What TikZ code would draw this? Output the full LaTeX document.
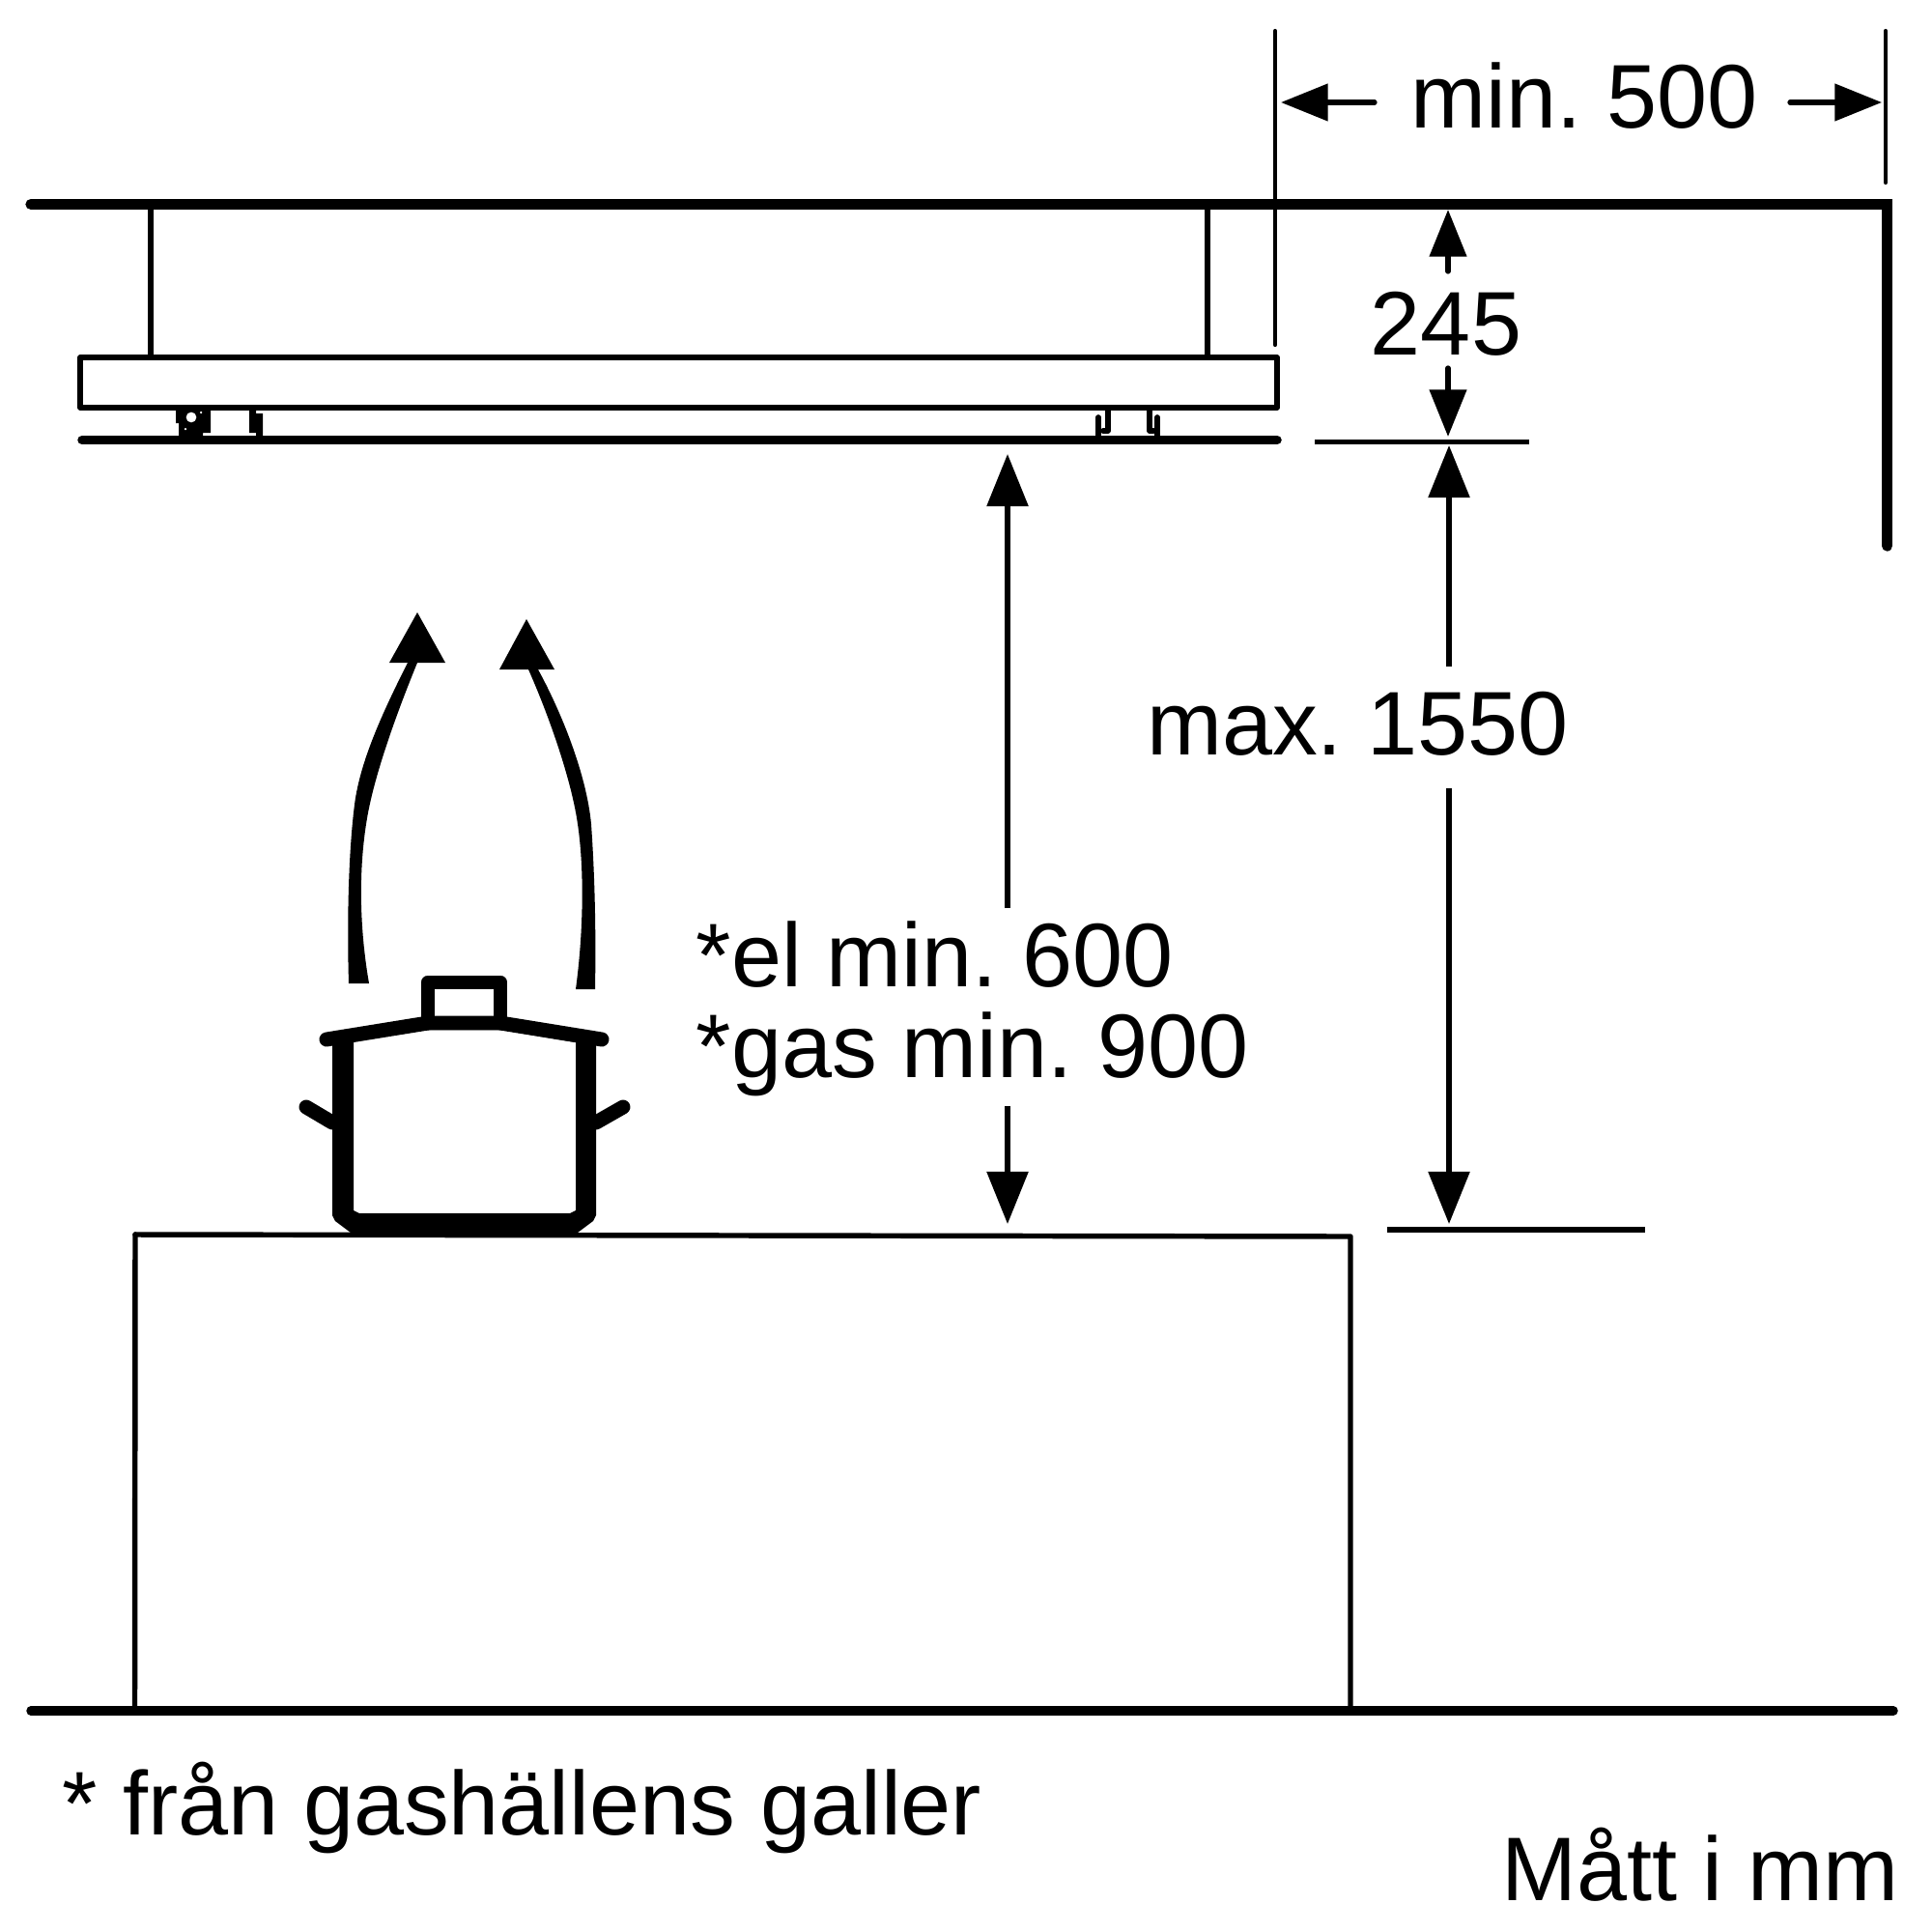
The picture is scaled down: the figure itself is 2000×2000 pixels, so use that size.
\documentclass[tikz,border=0pt]{standalone}
\usepackage{fontspec}
\setmainfont{Liberation Sans}
\usetikzlibrary{arrows.meta}
\tikzset{
  wall/.style={line width=3.2pt,line cap=round,line join=miter},
  floorline/.style={line width=2.7pt,line cap=round},
  edge/.style={line width=1.55pt,line cap=round,line join=round},
  clip line/.style={line width=1.6pt,line cap=round,line join=round},
  potline/.style={line width=4.25pt,line cap=round,line join=round},
  dimline/.style={line width=1.2pt,line cap=round},
  tick/.style={line width=1.6pt},
  dimarrow/.style={line width=1.5pt,-{Triangle[length=15.4pt,width=12pt]}},
  shortarrow/.style={line width=1.5pt,line cap=round,-{Triangle[length=13.8pt,width=10.7pt]}},
  label/.style={font=\fontsize{26.6}{32}\selectfont,inner sep=0pt},
}
\begin{document}
\frenchspacing
\begin{tikzpicture}[x=0.01cm,y=-0.01cm]
    \useasboundingbox (0,0) rectangle (2000,2000);
    % ceiling, back wall and floor
    \draw[wall] (32,211.5) -- (1953.5,211.5) -- (1953.5,565);
    \draw[floorline] (32,1771) -- (1960,1771);
    % hood
    \draw[edge] (156,212) -- (156,370);
    \draw[edge] (1250,212) -- (1250,370);
    \draw[edge] (83,370) rectangle (1322,422);
    \draw[floorline] (85,455.5) -- (1322,455.5);
    % clips
    \draw[clip line] (1147,423) -- (1147,446) -- (1142,446);
    \draw[clip line] (1137,432) -- (1137,453);
    \draw[clip line] (1190,423) -- (1190,446) -- (1194,446);
    \draw[clip line] (1198,432) -- (1198,453);
    \fill (258,421) -- (265,421) -- (265,428) -- (272,428) -- (272,452) -- (265,452) -- (265,448) -- (258,448) -- cycle;
    \fill[even odd rule] (182,424) -- (210,424) -- (210,420) -- (218,420) -- (218,448) -- (210,448)
      -- (210,452) -- (185,452) -- (185,438) -- (182,438) -- cycle
      (198,432) circle (5.5) (192,444) circle (1.5) (208,427) circle (1.5);
    % hob
    \draw[edge] (140,1278) -- (1398,1280) -- (1398,1771);
    \draw[edge] (140,1278) -- (139.5,1771);
    % pot
    \fill[even odd rule] (344,1075) -- (344,1258) -- (347,1264) -- (363,1276) -- (598,1276) -- (614,1264)
      -- (617,1258) -- (617,1075) -- (518,1059) -- (443,1059) -- cycle
      (366,1078) -- (366,1253) -- (372,1256) -- (590,1256) -- (596,1253) -- (596,1079)
      -- (518,1066) -- (443,1066) -- cycle;
    \draw[potline] (338,1076) -- (443,1059) -- (518,1059) -- (623,1076);
    \draw[potline] (443,1059) -- (443,1017) -- (518,1017) -- (518,1059);
    \draw[potline] (317,1146) -- (344,1162);
    \draw[potline] (645,1146) -- (617,1162);
    % rising air
    \fill (361,1018) .. controls (359,950) and (361,880) .. (367,833)
      .. controls (373,785) and (400,730) .. (422,686) -- (432,686)
      .. controls (412,735) and (388,800) .. (380,847)
      .. controls (371,900) and (372,960) .. (382,1018) -- cycle;
    \fill (403,686) -- (432,634) -- (461,686) -- cycle;
    \fill (596,1024) .. controls (604,965) and (605,900) .. (598,853)
      .. controls (592,810) and (570,745) .. (547,693) -- (557,693)
      .. controls (580,735) and (607,800) .. (612,853)
      .. controls (616,910) and (617,970) .. (616,1024) -- cycle;
    \fill (517,693) -- (545,641) -- (574,693) -- cycle;
    % dimension lines
    \draw[dimline] (1320,32) -- (1320,357);
    \draw[dimline] (1952,32) -- (1952,189);
    \draw[tick] (1361,457.5) -- (1583,457.5);
    \draw[tick] (1436,1273) -- (1703,1273);
    % labels
    \node[label,anchor=base west] (width) at (1460,133) {min. 500};
    \node[label] (gap) at (1497,335) {245};
    \node[label] (height) at (1405.5,749) {max. 1550};
    \node[label,anchor=base west] (electric) at (720,1021) {*el min. 600};
    \node[label,anchor=base west] (gas) at (720,1115.5) {*gas min. 900};
    \node[label,anchor=base west] (note) at (64,1899) {* från gashällens galler};
    \node[label,anchor=base east] (unit) at (1966,1967) {Mått i mm};
    % dimension arrows
    \coordinate (widthls) at (1423,106);
    \coordinate (widthl) at (1326,106);
    \coordinate (widthrs) at (1853,106);
    \coordinate (widthr) at (1948,106);
    \coordinate (gapts) at (1499,281);
    \coordinate (gapt) at (1499,217);
    \coordinate (gapbs) at (1499,381);
    \coordinate (gapb) at (1499,452);
    \coordinate (heightts) at (1500,690);
    \coordinate (heightt) at (1500,461);
    \coordinate (heightbs) at (1500,816);
    \coordinate (heightb) at (1500,1267);
    \coordinate (hobts) at (1043,940);
    \coordinate (hobt) at (1043,470);
    \coordinate (hobbs) at (1043,1145);
    \coordinate (hobb) at (1043,1267);
    \draw[shortarrow] (widthls) -- (widthl);
    \draw[shortarrow] (widthrs) -- (widthr);
    \draw[shortarrow] (gapts) -- (gapt);
    \draw[shortarrow] (gapbs) -- (gapb);
    \draw[dimarrow] (heightts) -- (heightt);
    \draw[dimarrow] (heightbs) -- (heightb);
    \draw[dimarrow] (hobts) -- (hobt);
    \draw[dimarrow] (hobbs) -- (hobb);
\end{tikzpicture}
\end{document}
